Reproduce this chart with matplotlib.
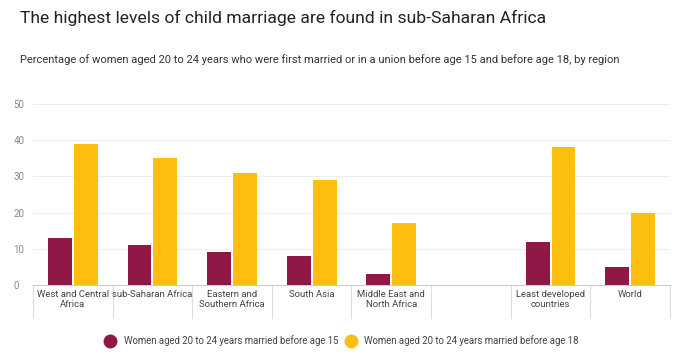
import matplotlib
matplotlib.use("Agg")
import matplotlib.pyplot as plt
import numpy as np
from matplotlib.lines import Line2D

categories = ["West and Central\nAfrica", "sub-Saharan Africa", "Eastern and\nSouthern Africa",
              "South Asia", "Middle East and\nNorth Africa", "", "Least developed\ncountries", "World"]
before15 = [13, 11, 9, 8, 3, None, 12, 5]
before18 = [39, 35, 31, 29, 17, None, 38, 20]
yticks = [0, 10, 20, 30, 40, 50]
series_names = ["Women aged 20 to 24 years married before age 15",
                "Women aged 20 to 24 years married before age 18"]
c15 = "#8f1846"
c18 = "#fcbf10"

W, H = 685, 363
fig = plt.figure(figsize=(W/100, H/100), dpi=100)
fig.patch.set_facecolor("white")
ax = fig.add_axes([33/W, 1-285/H, (670-33)/W, (285-104)/H])

x = np.arange(len(categories))
bw = 0.3
gap = 0.025
for i in range(len(categories)):
    if before15[i] is not None:
        ax.bar(x[i] - bw/2 - gap/2, before15[i], bw, color=c15, zorder=3)
        ax.bar(x[i] + bw/2 + gap/2, before18[i], bw, color=c18, zorder=3)

ax.set_xlim(-0.5, len(categories) - 0.5)
ax.set_ylim(0, 50)
ax.set_yticks(yticks)
ax.set_yticklabels([str(v) for v in yticks], fontsize=7, color="#888888", family="Roboto")
ax.tick_params(axis="y", length=0, pad=14)
for lab in ax.get_yticklabels():
    lab.set_horizontalalignment("left")
ax.grid(axis="y", color="#eeeeee", linewidth=0.8, zorder=0)
for s in ["top", "right", "left"]:
    ax.spines[s].set_visible(False)
ax.spines["bottom"].set_color("#cccccc")
ax.spines["bottom"].set_linewidth(0.8)

ax.set_xticks([])
trans = ax.get_xaxis_transform()
for b in np.arange(-0.5, len(categories), 1.0):
    ax.plot([b, b], [0, -0.18], transform=trans, color="#dddddd", lw=0.8, clip_on=False)
for i, c in enumerate(categories):
    ax.text(x[i], -0.025, c, transform=trans, ha="center", va="top", fontsize=6.8,
            color="#444444", family="Roboto", linespacing=1.15)

fig.text(20/W, 1-18/H, "The highest levels of child marriage are found in sub-Saharan Africa",
         fontsize=12.6, family="Roboto", color="#222222", va="center", ha="left")
fig.text(20/W, 1-60/H, "Percentage of women aged 20 to 24 years who were first married or in a union before age 15 and before age 18, by region",
         fontsize=8, family="Roboto", color="#333333", va="center", ha="left")

handles = [Line2D([], [], marker="o", ls="", markersize=9, color=c15),
           Line2D([], [], marker="o", ls="", markersize=9, color=c18)]
leg = fig.legend(handles, series_names, loc="center", bbox_to_anchor=(342/W, 1-341/H),
                 ncol=2, frameon=False, prop={"family": "Roboto", "size": 6.9},
                 handletextpad=0.9, columnspacing=0.8, handlelength=1.0)
for t in leg.get_texts():
    t.set_color("#444444")

fig.savefig("out.png", dpi=100)
